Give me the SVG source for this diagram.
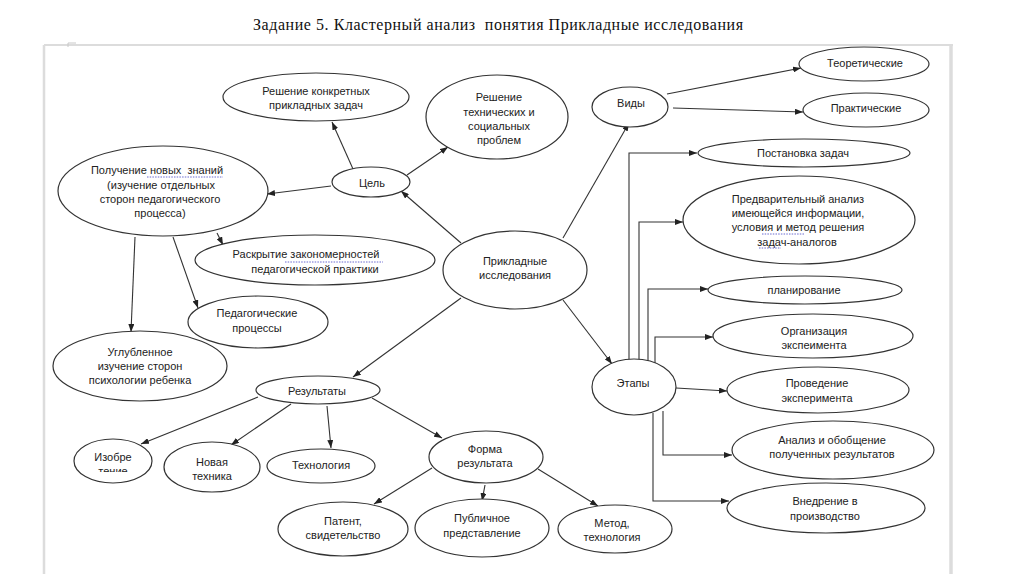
<svg xmlns="http://www.w3.org/2000/svg" width="1024" height="574" viewBox="0 0 1024 574">
<defs>
<style>
.n ellipse{fill:#fff;stroke:#333;stroke-width:1.2}
.n text{font-family:"Liberation Sans",Arial,sans-serif;font-size:11px;fill:#222;text-anchor:middle}
.c path{fill:none;stroke:#333;stroke-width:1.1}
.sp{fill:none;stroke:#6a6ad0;stroke-width:1;stroke-dasharray:1.5 1.2}
.fr{fill:none;stroke:#dcdcdc}
</style>
<marker id="ar" viewBox="0 0 8 6" refX="8" refY="3" markerWidth="8" markerHeight="6" markerUnits="userSpaceOnUse" orient="auto">
<path d="M0,0 L8,3 L0,6 z" fill="#222"/>
</marker>
<clipPath id="clipIz"><rect x="60" y="430" width="110" height="42"/></clipPath>
</defs>
<rect width="1024" height="574" fill="#fff"/>
<text x="253" y="30" font-family="'Liberation Serif','Times New Roman',serif" font-size="16" fill="#111" textLength="490" lengthAdjust="spacing" xml:space="preserve">Задание 5. Кластерный анализ  понятия Прикладные исследования</text>
<g id="frame">
<path class="fr" d="M44,45 H953" stroke-width="2"/>
<path class="fr" d="M44,45 V574" stroke-width="2.5"/>
<path class="fr" d="M951,45 V574" stroke-width="3.5"/>
<path d="M68,47 V43 H76" fill="none" stroke="#c8c8c8" stroke-width="1"/>
</g>
<g class="c" id="connectors">
<path d="M353,169 L332,122" marker-end="url(#ar)"/>
<path d="M407,175 L448,147" marker-end="url(#ar)"/>
<path d="M331,186 L267,194" marker-end="url(#ar)"/>
<path d="M461,243 L401,191" marker-end="url(#ar)"/>
<path d="M217,233 L223,245" marker-end="url(#ar)"/>
<path d="M173,237 L198,308" marker-end="url(#ar)"/>
<path d="M135,237 L131,332" marker-end="url(#ar)"/>
<path d="M461,298 L353,377" marker-end="url(#ar)"/>
<path d="M563,238 L629,123" marker-end="url(#ar)"/>
<path d="M563,300 L612,364" marker-end="url(#ar)"/>
<path d="M667,94 L801,68" marker-end="url(#ar)"/>
<path d="M673,108 L803,112" marker-end="url(#ar)"/>
<path d="M258,397 L141,444" marker-end="url(#ar)"/>
<path d="M291,404 L231,445" marker-end="url(#ar)"/>
<path d="M327,406 L331,448" marker-end="url(#ar)"/>
<path d="M372,398 L442,438" marker-end="url(#ar)"/>
<path d="M432,468 L374,504" marker-end="url(#ar)"/>
<path d="M485,485 L482,501" marker-end="url(#ar)"/>
<path d="M538,469 L598,506" marker-end="url(#ar)"/>
<path d="M629,360 V153 H697" marker-end="url(#ar)"/>
<path d="M639,360 V222 H683" marker-end="url(#ar)"/>
<path d="M648,361 V289 H708" marker-end="url(#ar)"/>
<path d="M655,363 V337 H713" marker-end="url(#ar)"/>
<path d="M676,388 L727,391" marker-end="url(#ar)"/>
<path d="M663,411 V455 H732" marker-end="url(#ar)"/>
<path d="M653,413 V501 H729" marker-end="url(#ar)"/>
</g>
<g class="n" id="n_prikl"><ellipse cx="515" cy="270" rx="72" ry="39"/><text x="515" y="265">Прикладные</text><text x="515" y="279">исследования</text></g>
<g class="n" id="n_cel"><ellipse cx="371" cy="182" rx="39" ry="15"/><text x="372" y="187">Цель</text></g>
<g class="n" id="n_resh_konkr"><ellipse cx="316" cy="97" rx="93" ry="24"/><text x="316" y="95">Решение конкретных</text><text x="316" y="109">прикладных задач</text></g>
<g class="n" id="n_resh_tech"><ellipse cx="497" cy="117" rx="71" ry="42"/><text x="499" y="101">Решение</text><text x="499" y="116">технических и</text><text x="499" y="130">социальных</text><text x="499" y="144">проблем</text></g>
<g class="n" id="n_poluch"><ellipse cx="163" cy="191" rx="105" ry="45"/><text x="157" y="174" xml:space="preserve">Получение новых  знаний</text><text x="161" y="189">(изучение отдельных</text><text x="160" y="203">сторон педагогического</text><text x="160" y="217">процесса)</text><path class="sp" d="M147,177 H223"/></g>
<g class="n" id="n_raskr"><ellipse cx="315" cy="260" rx="120" ry="25"/><text x="306" y="258">Раскрытие закономерностей</text><text x="315" y="273">педагогической практики</text><path class="sp" d="M285,262 H383"/></g>
<g class="n" id="n_ped"><ellipse cx="258" cy="322" rx="70" ry="26"/><text x="257" y="317">Педагогические</text><text x="257" y="332">процессы</text></g>
<g class="n" id="n_uglub"><ellipse cx="140" cy="366" rx="87" ry="35"/><text x="140" y="356">Углубленное</text><text x="140" y="370">изучение сторон</text><text x="140" y="384">психологии ребенка</text></g>
<g class="n" id="n_vidy"><ellipse cx="630" cy="107" rx="38" ry="20"/><text x="631" y="107">Виды</text></g>
<g class="n" id="n_teor"><ellipse cx="864" cy="64" rx="65" ry="17"/><text x="865" y="67">Теоретические</text></g>
<g class="n" id="n_prakt"><ellipse cx="866" cy="110" rx="63" ry="17"/><text x="866" y="112">Практические</text></g>
<g class="n" id="n_etapy"><ellipse cx="634" cy="387" rx="42" ry="28"/><text x="633" y="387">Этапы</text></g>
<g class="n" id="n_post"><ellipse cx="804" cy="153" rx="106" ry="14"/><text x="803" y="157">Постановка задач</text></g>
<g class="n" id="n_predv"><ellipse cx="799" cy="220" rx="116" ry="44"/><text x="798" y="203">Предварительный анализ</text><text x="798" y="217">имеющейся информации,</text><text x="798" y="231">условия и метод решения</text><text x="797" y="246">задач-аналогов</text><path class="sp" d="M762,234 H805 M759,248 H781"/></g>
<g class="n" id="n_plan"><ellipse cx="805" cy="290" rx="97" ry="14"/><text x="804" y="294">планирование</text></g>
<g class="n" id="n_org"><ellipse cx="813" cy="336" rx="100" ry="22"/><text x="814" y="335">Организация</text><text x="814" y="349">экспеимента</text></g>
<g class="n" id="n_prov"><ellipse cx="818" cy="390" rx="91" ry="23"/><text x="817" y="387">Проведение</text><text x="817" y="402">эксперимента</text></g>
<g class="n" id="n_analiz"><ellipse cx="833" cy="450" rx="101" ry="29"/><text x="832" y="444">Анализ и обобщение</text><text x="832" y="458">полученных результатов</text></g>
<g class="n" id="n_vnedr"><ellipse cx="826" cy="508" rx="99" ry="25"/><text x="825" y="505">Внедрение в</text><text x="825" y="520">производство</text></g>
<g class="n" id="n_rez"><ellipse cx="318" cy="390" rx="62" ry="14"/><text x="317" y="395">Результаты</text></g>
<g class="n" id="n_izobr"><ellipse cx="113" cy="461" rx="39" ry="22"/><text x="113" y="461">Изобре</text><text x="113" y="475" clip-path="url(#clipIz)">тение</text></g>
<g class="n" id="n_nov"><ellipse cx="212" cy="467" rx="48" ry="25"/><text x="212" y="466">Новая</text><text x="212" y="480">техника</text></g>
<g class="n" id="n_tehn"><ellipse cx="321" cy="466" rx="54" ry="17"/><text x="321" y="469">Технология</text></g>
<g class="n" id="n_forma"><ellipse cx="486" cy="457" rx="57" ry="26"/><text x="485" y="453">Форма</text><text x="485" y="467">результата</text></g>
<g class="n" id="n_patent"><ellipse cx="343" cy="529" rx="65" ry="27"/><text x="343" y="525">Патент,</text><text x="343" y="539">свидетельство</text></g>
<g class="n" id="n_publ"><ellipse cx="482" cy="528" rx="67" ry="29"/><text x="482" y="522">Публичное</text><text x="482" y="537">представление</text></g>
<g class="n" id="n_metod"><ellipse cx="615" cy="529" rx="57" ry="24"/><text x="612" y="527">Метод,</text><text x="612" y="541">технология</text></g>
</svg>
